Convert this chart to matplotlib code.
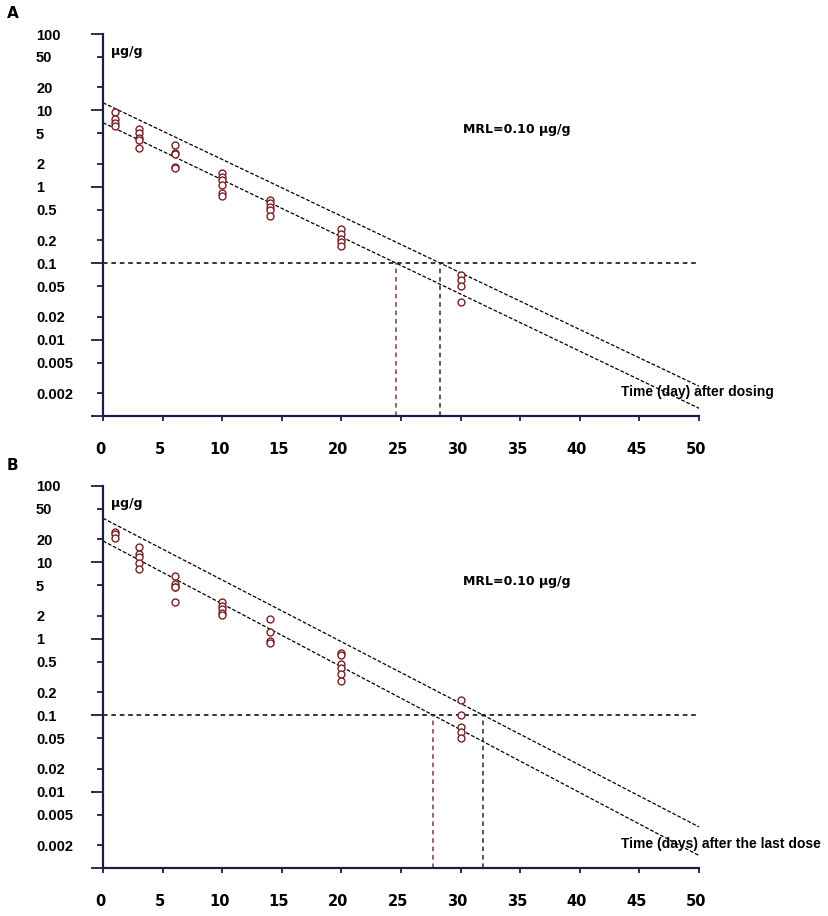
import numpy as np
import matplotlib
matplotlib.use("Agg")
import matplotlib.pyplot as plt
from matplotlib.ticker import FixedLocator, FixedFormatter
from matplotlib.transforms import ScaledTranslation

# ---- data ----
days_a = [1, 1, 1, 1, 3, 3, 3, 3, 3, 6, 6, 6, 6, 6, 10, 10, 10, 10, 10, 10,
          14, 14, 14, 14, 14, 20, 20, 20, 20, 20, 30, 30, 30, 30]
conc_a = [9.6, 7.7, 6.9, 6.2, 5.7, 5.0, 4.3, 4.1, 3.2, 3.5, 2.8, 2.7, 1.8, 1.75,
          1.5, 1.36, 1.24, 1.05, 0.83, 0.75, 0.68, 0.61, 0.55, 0.49, 0.41,
          0.28, 0.24, 0.21, 0.19, 0.17, 0.071, 0.060, 0.050, 0.031]

days_b = [1, 1, 1, 3, 3, 3, 3, 3, 6, 6, 6, 6, 6, 10, 10, 10, 10, 10,
          14, 14, 14, 14, 20, 20, 20, 20, 20, 20, 30, 30, 30, 30, 30]
conc_b = [25.3, 23.6, 21.1, 16.1, 12.8, 11.7, 9.9, 8.3, 6.7, 5.2, 4.8, 4.7, 3.0,
          3.0, 2.7, 2.44, 2.2, 2.04, 1.79, 1.22, 0.95, 0.89,
          0.66, 0.61, 0.47, 0.41, 0.35, 0.28, 0.157, 0.10, 0.070, 0.060, 0.050]

# regression lines: log10(conc) = a - b * day   (upper, lower)
fit_a_intercept = [1.100, 0.839]
fit_a_slope = [0.0742, 0.07476]
fit_b_intercept = [1.578, 1.281]
fit_b_slope = [0.0808, 0.08235]

mrl = 0.10
ymajor_vals = [100, 10, 1, 0.1, 0.01, 0.001]
ymajor_labels = ["100", "10", "1", "0.1", "0.01", ""]
yminor_vals = [50, 20, 5, 2, 0.5, 0.2, 0.05, 0.02, 0.005, 0.002]
yminor_labels = ["50", "20", "5", "2", "0.5", "0.2", "0.05", "0.02", "0.005", "0.002"]
xtick_vals = list(range(0, 51, 5))

AXIS_COL = "#1c1c4c"
PT_COL = "#7a1f22"

W, H = 829, 916
fig = plt.figure(figsize=(W / 100, H / 100), dpi=100)


def panel(top_px, days, conc, intercepts, slopes, letter, xlabel):
    ax = fig.add_axes([103 / W, 1 - (top_px + 382) / H, 596 / W, 382 / H])
    ax.set_yscale("log")
    ax.set_xlim(0, 50)
    ax.set_ylim(0.001, 100)
    for s in ["top", "right"]:
        ax.spines[s].set_visible(False)
    for s in ["left", "bottom"]:
        ax.spines[s].set_color(AXIS_COL)
        ax.spines[s].set_linewidth(1.6)

    ax.yaxis.set_major_locator(FixedLocator(ymajor_vals))
    ax.yaxis.set_major_formatter(FixedFormatter(ymajor_labels))
    ax.yaxis.set_minor_locator(FixedLocator(yminor_vals))
    ax.yaxis.set_minor_formatter(FixedFormatter(yminor_labels))
    ax.tick_params(axis="y", which="major", direction="out", length=8.6, width=1.3,
                   color=AXIS_COL, pad=39.6, labelsize=10.5)
    ax.tick_params(axis="y", which="minor", direction="out", length=4.3, width=1.3,
                   color=AXIS_COL, pad=43.9, labelsize=10.5)
    for lab in ax.get_yticklabels(which="both"):
        lab.set_horizontalalignment("left")
        lab.set_fontweight("bold")
        lab.set_fontfamily("Liberation Sans")

    ax.set_xticks(xtick_vals)
    ax.set_xticklabels([str(v) for v in xtick_vals])
    ax.tick_params(axis="x", direction="out", length=3.5, width=1.3, color=AXIS_COL,
                   pad=15, labelsize=10.5)
    off = ScaledTranslation(-3 / 100, 0, fig.dpi_scale_trans)
    for lab in ax.get_xticklabels():
        lab.set_fontweight("bold")
        lab.set_fontfamily("DejaVu Sans")
        lab.set_transform(lab.get_transform() + off)

    # regression bounds
    xs = np.array([0, 50])
    for a, b in zip(intercepts, slopes):
        ax.plot(xs, 10 ** (a - b * xs), color="black", lw=0.9,
                dashes=(3, 1.5), clip_on=False)

    # MRL line
    ax.plot([0, 50], [mrl, mrl], color="black", lw=1.1, dashes=(3, 2.5))

    # withdrawal times where bounds cross MRL
    vcols = ["#2a2a2a", "#7a3a3a"]
    for a, b, c in zip(intercepts, slopes, vcols):
        t = (a - np.log10(mrl)) / b
        ax.vlines(t, 0.001, mrl, color=c, lw=1.1, linestyles=(0, (3, 2.5)))

    ax.plot(days, conc, linestyle="none", marker="o", markersize=5,
            markerfacecolor="white", markeredgecolor=PT_COL, markeredgewidth=1.0,
            zorder=5)

    fig.text(111 / W, 1 - (top_px + 18) / H, "\u00b5g/g", ha="left", va="center",
             fontsize=9, fontweight="bold", family="DejaVu Sans")
    fig.text(463 / W, 1 - (top_px + 95) / H, "MRL=0.10 \u00b5g/g", ha="left", va="center",
             fontsize=9, fontweight="bold", family="DejaVu Sans")
    fig.text(621 / W, 1 - (top_px + 358) / H, xlabel, ha="left", va="center",
             fontsize=10, fontweight="bold", family="Liberation Sans")
    fig.text(7 / W, 1 - (top_px - 20) / H, letter, ha="left", va="center",
             fontsize=11, fontweight="bold", family="DejaVu Sans")
    return ax


panel(34, days_a, conc_a, fit_a_intercept, fit_a_slope, "A",
      "Time (day) after dosing")
panel(486, days_b, conc_b, fit_b_intercept, fit_b_slope, "B",
      "Time (days) after the last dose")

fig.savefig("out.png", dpi=100)
